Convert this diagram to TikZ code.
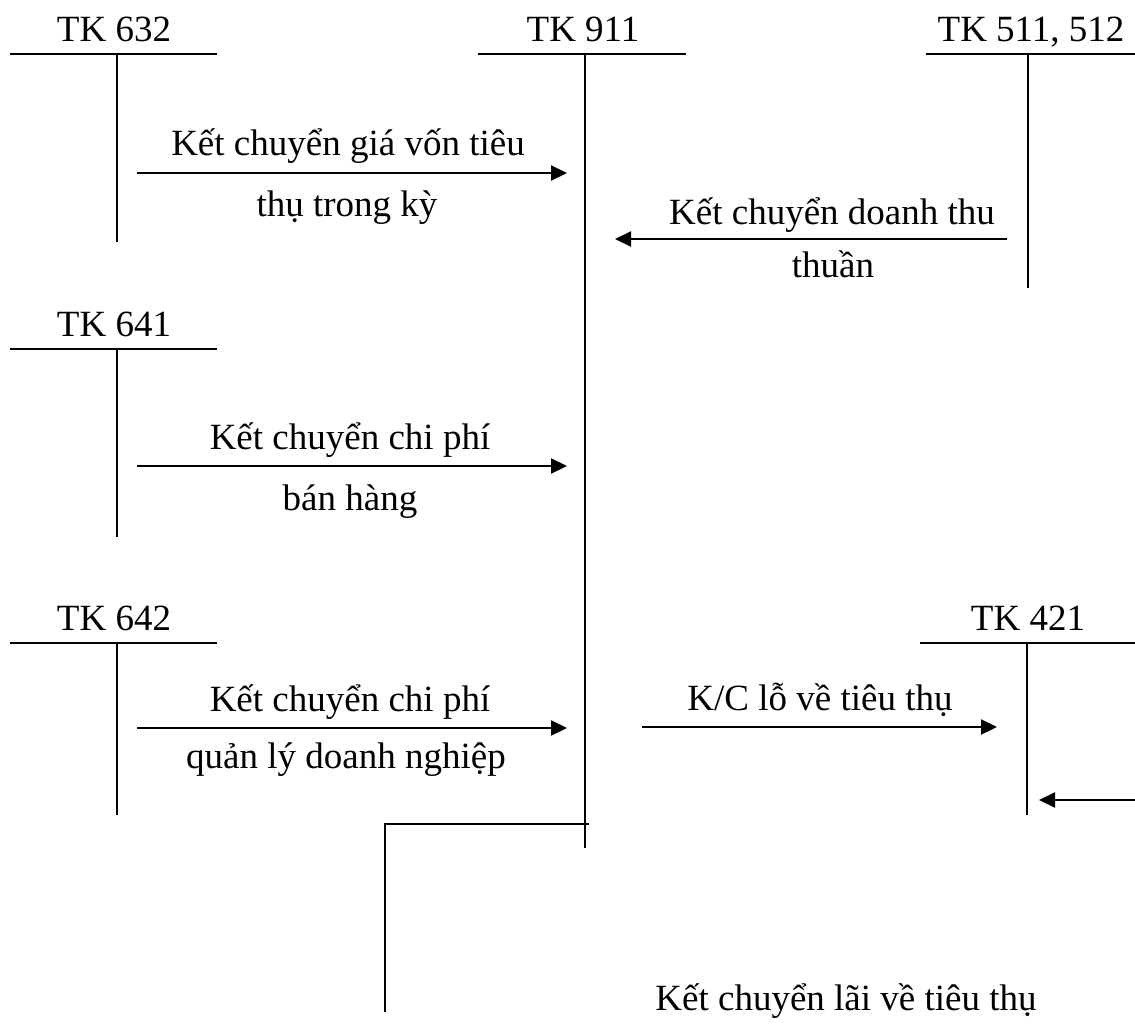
\documentclass[tikz,border=0pt]{standalone}
\usepackage{fontspec}
\setmainfont{Liberation Serif}
\usetikzlibrary{arrows.meta}
\begin{document}
\begin{tikzpicture}[x=1pt,y=-1pt,
  tline/.style={line width=2.2pt},
  flow/.style={line width=2.2pt,-{Triangle[length=16pt,width=15pt]}},
  lbl/.style={anchor=base,inner sep=0pt,font=\fontsize{37}{44}\selectfont}]
\useasboundingbox (0,0) rectangle (1135,1027);
% T-account TK 632
\node[lbl] (t632) at (114,42) {TK 632};
\coordinate (a632l) at (10,54); \coordinate (a632r) at (217,54);
\coordinate (a632t) at (117,54); \coordinate (a632b) at (117,242);
\draw[tline] (a632l) -- (a632r); \draw[tline] (a632t) -- (a632b);
% TK 911
\node[lbl] (t911) at (583,42) {TK 911};
\coordinate (a911l) at (478,54); \coordinate (a911r) at (686,54);
\coordinate (a911t) at (585,54); \coordinate (a911b) at (585,848);
\draw[tline] (a911l) -- (a911r); \draw[tline] (a911t) -- (a911b);
% TK 511, 512
\node[lbl] (t511) at (1031,42) {TK 511, 512};
\coordinate (a511l) at (926,54); \coordinate (a511r) at (1135,54);
\coordinate (a511t) at (1028,54); \coordinate (a511b) at (1028,288);
\draw[tline] (a511l) -- (a511r); \draw[tline] (a511t) -- (a511b);
% TK 641
\node[lbl] (t641) at (114,336) {TK 641};
\coordinate (a641l) at (10,349); \coordinate (a641r) at (217,349);
\coordinate (a641t) at (117,349); \coordinate (a641b) at (117,537);
\draw[tline] (a641l) -- (a641r); \draw[tline] (a641t) -- (a641b);
% TK 642
\node[lbl] (t642) at (114,630) {TK 642};
\coordinate (a642l) at (10,643); \coordinate (a642r) at (217,643);
\coordinate (a642t) at (117,643); \coordinate (a642b) at (117,815);
\draw[tline] (a642l) -- (a642r); \draw[tline] (a642t) -- (a642b);
% TK 421
\node[lbl] (t421) at (1028,630) {TK 421};
\coordinate (a421l) at (920,643); \coordinate (a421r) at (1135,643);
\coordinate (a421t) at (1027,643); \coordinate (a421b) at (1027,815);
\draw[tline] (a421l) -- (a421r); \draw[tline] (a421t) -- (a421b);
% flows
\coordinate (f1s) at (137,173); \coordinate (f1e) at (567,173);
\draw[flow] (f1s) -- (f1e);
\node[lbl] (x1a) at (348,156) {Kết chuyển giá vốn tiêu};
\node[lbl] (x1b) at (347,217) {thụ trong kỳ};
\coordinate (f2s) at (1007,239); \coordinate (f2e) at (615,239);
\draw[flow] (f2s) -- (f2e);
\node[lbl] (x2a) at (832,225) {Kết chuyển doanh thu};
\node[lbl] (x2b) at (833,277) {thuần};
\coordinate (f3s) at (137,466); \coordinate (f3e) at (567,466);
\draw[flow] (f3s) -- (f3e);
\node[lbl] (x3a) at (350,449) {Kết chuyển chi phí};
\node[lbl] (x3b) at (350,510) {bán hàng};
\coordinate (f4s) at (137,728); \coordinate (f4e) at (567,728);
\draw[flow] (f4s) -- (f4e);
\node[lbl] (x4a) at (350,711) {Kết chuyển chi phí};
\node[lbl] (x4b) at (346,768) {quản lý doanh nghiệp};
\coordinate (f5s) at (642,727); \coordinate (f5e) at (997,727);
\draw[flow] (f5s) -- (f5e);
\node[lbl] (x5) at (820,710) {K/C lỗ về tiêu thụ};
\coordinate (f6s) at (1135,800); \coordinate (f6e) at (1039,800);
\draw[flow] (f6s) -- (f6e);
% profit line
\coordinate (p1) at (589,824); \coordinate (p2) at (385,824); \coordinate (p3) at (385,1012);
\draw[tline] (p1) -- (p2) -- (p3);
\node[lbl] (x6) at (846,1010) {Kết chuyển lãi về tiêu thụ};
\end{tikzpicture}
\end{document}
